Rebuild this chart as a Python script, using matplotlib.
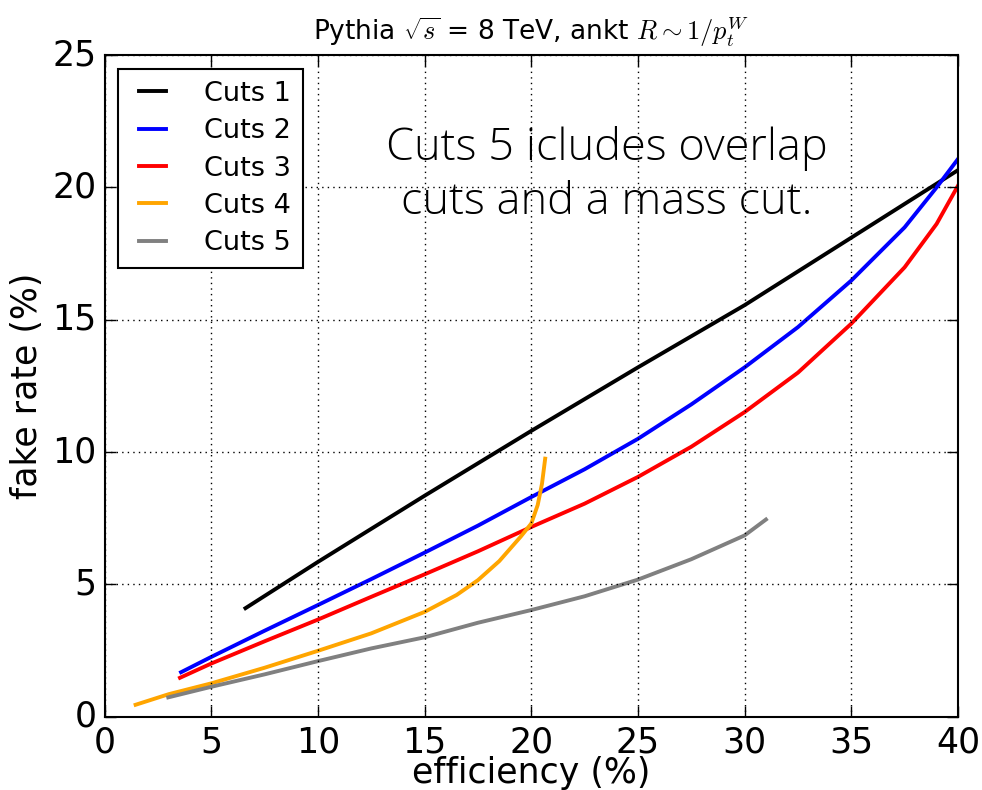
import matplotlib
matplotlib.use("Agg")
import matplotlib.pyplot as plt
import numpy as np

plt.style.use("classic")

# efficiency (%) vs fake rate (%) for each cut set
cuts1_eff = [6.6, 10, 15, 20, 25, 30, 35, 40]
cuts1_fake = [4.1, 5.85, 8.35, 10.8, 13.2, 15.55, 18.1, 20.65]

cuts2_eff = [3.58, 5, 7.5, 10, 12.5, 15, 17.5, 20, 22.5, 25, 27.5, 30, 32.5, 35, 37.5, 39, 40]
cuts2_fake = [1.68, 2.26, 3.25, 4.22, 5.2, 6.2, 7.22, 8.3, 9.35, 10.5, 11.8, 13.2, 14.72, 16.48, 18.49, 20.0, 21.07]

cuts3_eff = [3.53, 5, 7.5, 10, 12.5, 15, 17.5, 20, 22.5, 25, 27.5, 30, 32.5, 35, 37.5, 39, 40]
cuts3_fake = [1.47, 2.01, 2.85, 3.67, 4.53, 5.38, 6.25, 7.17, 8.05, 9.06, 10.2, 11.51, 13.0, 14.85, 16.98, 18.62, 20.06]

cuts4_eff = [1.45, 3, 5, 7.5, 10, 12.5, 15, 16.5, 17.5, 18.5, 19.5, 20, 20.3, 20.5, 20.65]
cuts4_fake = [0.45, 0.85, 1.26, 1.85, 2.49, 3.15, 3.96, 4.6, 5.16, 5.88, 6.8, 7.3, 8.0, 8.8, 9.75]

cuts5_eff = [2.98, 5, 7.5, 10, 12.5, 15, 17.5, 20, 22.5, 25, 27.5, 30, 31.0]
cuts5_fake = [0.73, 1.13, 1.6, 2.1, 2.58, 3.0, 3.55, 4.03, 4.55, 5.18, 5.95, 6.85, 7.45]

series = [
    ("Cuts 1", cuts1_eff, cuts1_fake, "black"),
    ("Cuts 2", cuts2_eff, cuts2_fake, "blue"),
    ("Cuts 3", cuts3_eff, cuts3_fake, "red"),
    ("Cuts 4", cuts4_eff, cuts4_fake, "orange"),
    ("Cuts 5", cuts5_eff, cuts5_fake, "gray"),
]

fig = plt.figure(figsize=(9.82, 7.9), dpi=100, facecolor="white")
ax = fig.add_axes([0.1066, 0.0928, 0.8689, 0.8375])

for label, x, y, c in series:
    ax.plot(x, y, color=c, lw=2.8, label=label)

ax.set_xlim(0, 40)
ax.set_ylim(0, 25)
ax.set_xticks(np.arange(0, 41, 5))
ax.set_yticks(np.arange(0, 26, 5))
ax.tick_params(labelsize=25, length=8, width=1, pad=6)
ax.grid(True, color="black", linestyle=":", linewidth=1)
for s in ax.spines.values():
    s.set_linewidth(1.5)

ax.set_xlabel("efficiency (%)", fontsize=25, labelpad=-2)
ax.set_ylabel("fake rate (%)", fontsize=25, labelpad=6)
ax.set_title(r"Pythia $\sqrt{s}$ = 8 TeV, ankt $R\sim 1/p_t^W$", fontsize=19, y=1.012)

leg = ax.legend(loc="upper left", fontsize=19.5, frameon=True, fancybox=False,
                handlelength=1.6, borderpad=0.45, labelspacing=0.42,
                handletextpad=1.1, borderaxespad=0.5)
leg.get_frame().set_edgecolor("black")
leg.get_frame().set_linewidth(1.5)
for h in leg.get_lines():
    h.set_linewidth(2.8)

ax.text(23.55, 20.45, "Cuts 5 icludes overlap\ncuts and a mass cut.",
        ha="center", va="center", fontsize=32.5, family="Open Sans", weight="light",
        linespacing=1.3)

fig.savefig("out.png", dpi=100, facecolor="white")
